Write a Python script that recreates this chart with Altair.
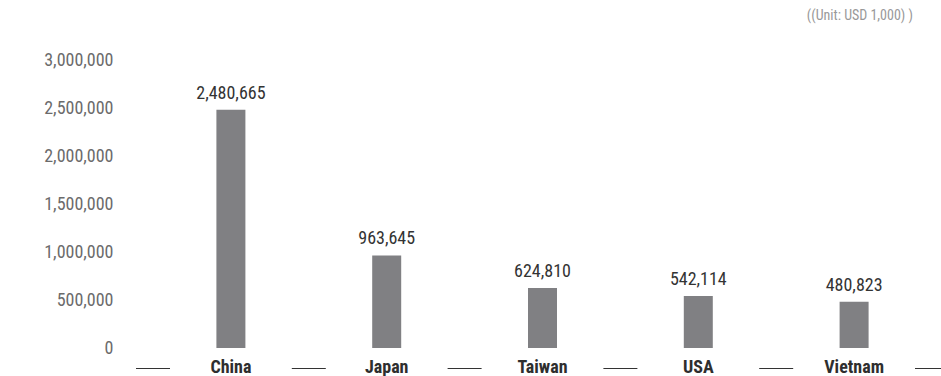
import altair as alt
import pandas as pd

countries = ["China", "Japan", "Taiwan", "USA", "Vietnam"]
values = [2480665, 963645, 624810, 542114, 480823]
y_ticks = [0, 500000, 1000000, 1500000, 2000000, 2500000, 3000000]
unit_label = "((Unit: USD 1,000) )"

FONT = "Roboto Condensed, Liberation Sans Narrow, DejaVu Sans Condensed, Roboto, sans-serif"

df = pd.DataFrame({"country": countries, "value": values})
last_df = pd.DataFrame({"country": [countries[-1]]})
unit_df = pd.DataFrame({"t": [unit_label]})

x_scale = alt.Scale(domain=countries, paddingInner=0, paddingOuter=0)
x_enc = alt.X(
    "country:N",
    scale=x_scale,
    sort=countries,
    axis=alt.Axis(
        title=None, domain=False, ticks=False, labelAngle=0,
        labelFont=FONT, labelFontSize=18, labelFontWeight="bold",
        labelColor="#2e2e2e", labelPadding=10,
    ),
)
y_enc = alt.Y(
    "value:Q",
    scale=alt.Scale(domain=[0, 3000000], nice=False),
    axis=alt.Axis(
        title=None, domain=False, ticks=False, grid=False, values=y_ticks,
        format=",d", labelFont=FONT, labelFontSize=18, labelColor="#6b6b6b",
        labelPadding=40,
    ),
)

bars = alt.Chart(df).mark_bar(width=29, color="#808083").encode(x=x_enc, y=y_enc)

labels = alt.Chart(df).mark_text(
    baseline="bottom", dy=-7, font=FONT, fontSize=18, color="#333333"
).encode(
    x=alt.X("country:N", sort=countries),
    y="value:Q",
    text=alt.Text("value:Q", format=",d"),
)

seps = alt.Chart(df).mark_rule(
    xOffset=-17, x2Offset=17, strokeWidth=1, color="#333333"
).encode(
    x=alt.X("country:N", sort=countries, bandPosition=0),
    x2=alt.X2("country", bandPosition=0),
    y=alt.value(308.5),
)

sep_last = alt.Chart(last_df).mark_rule(
    xOffset=-17, x2Offset=17, strokeWidth=1, color="#333333"
).encode(
    x=alt.X("country:N", sort=countries, bandPosition=1),
    x2=alt.X2("country", bandPosition=1),
    y=alt.value(308.5),
)

unit = alt.Chart(unit_df).mark_text(
    align="right", baseline="middle", font=FONT, fontSize=14, color="#999999"
).encode(
    x=alt.value(760),
    y=alt.value(-44),
    text="t:N",
)

chart = alt.layer(bars, labels, seps, sep_last, unit).properties(
    width=779,
    height=288,
    padding={"left": 153, "top": 60, "right": 9, "bottom": 28},
    autosize=alt.AutoSizeParams(type="none"),
).configure(background="white").configure_view(stroke=None)

chart.save("out.html", embed_options={"renderer": "svg", "actions": False})
